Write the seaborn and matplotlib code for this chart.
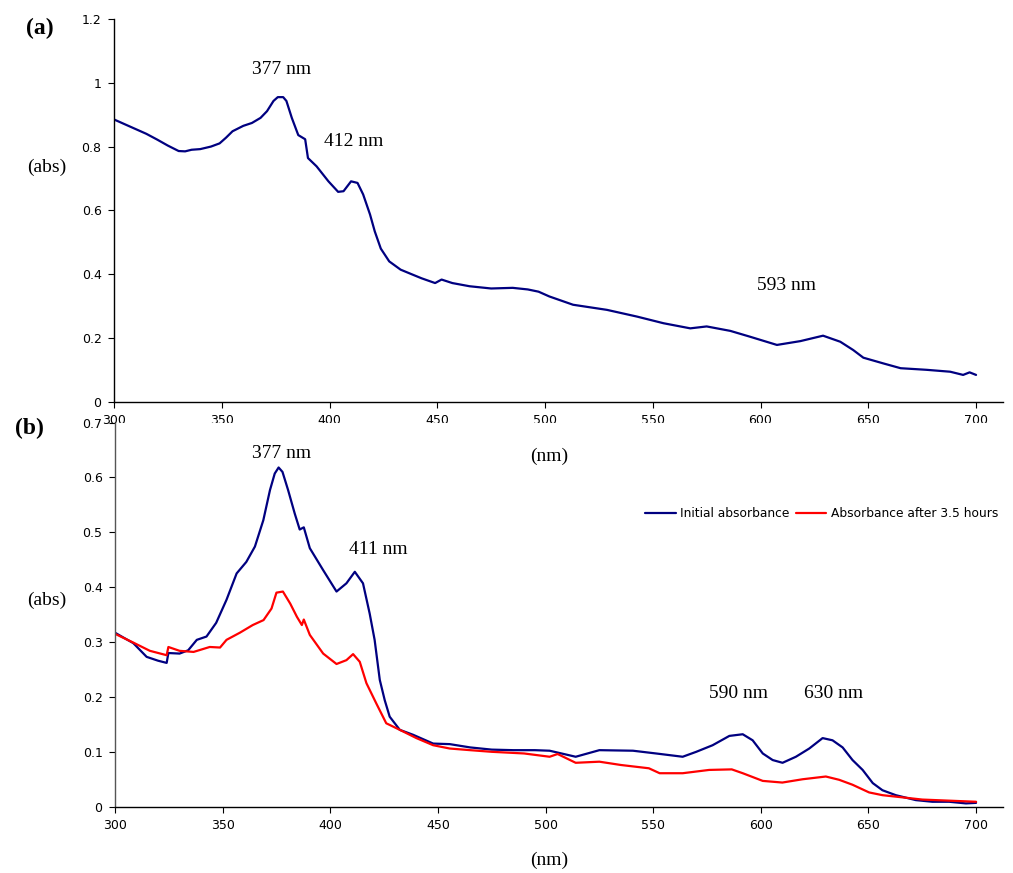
import numpy as np
import pandas as pd
import matplotlib
matplotlib.use("Agg")
import matplotlib.pyplot as plt
import seaborn as sns

# ---------------- data ----------------
top_nm = [300, 305, 310, 315, 320, 325, 330, 333, 336, 340, 345, 349, 352, 355, 360, 364, 368,
          371, 374, 376, 378.5, 380, 382.5, 385.5, 388.7, 390, 394, 399.5, 404, 406.5, 410, 413,
          415.6, 418.8, 421, 423.8, 427.7, 433, 438, 442.7, 449, 452, 457, 465, 475, 485, 492,
          497, 502, 513, 528.7, 542.6, 555, 567.4, 575, 586, 595, 607.6, 618.5, 629, 637, 643,
          647.7, 657, 665, 677, 688, 694, 697, 700]
top_abs = [0.885, 0.870, 0.855, 0.840, 0.822, 0.803, 0.786, 0.785, 0.790, 0.792, 0.800, 0.810,
           0.828, 0.848, 0.865, 0.874, 0.890, 0.911, 0.943, 0.955, 0.955, 0.943, 0.890, 0.836,
           0.823, 0.764, 0.738, 0.691, 0.658, 0.660, 0.691, 0.686, 0.650, 0.587, 0.534, 0.480,
           0.440, 0.414, 0.400, 0.387, 0.372, 0.383, 0.372, 0.362, 0.355, 0.357, 0.352, 0.345,
           0.330, 0.304, 0.288, 0.267, 0.246, 0.230, 0.236, 0.222, 0.204, 0.178, 0.190, 0.207,
           0.188, 0.162, 0.138, 0.120, 0.105, 0.100, 0.094, 0.084, 0.092, 0.084]

init_nm = [300, 304, 308.5, 314.7, 320, 324, 324.8, 330, 334, 338, 342.5, 347, 351.8, 356.5, 361,
           365, 368.9, 372, 374.2, 376, 377.8, 380.4, 383.5, 385.8, 387.7, 390.5, 396.7, 402.9,
           407.5, 411.4, 415.2, 418.3, 420.6, 423, 425.3, 427.6, 432.3, 438.5, 447.8, 455.5, 465,
           475, 485, 495, 501.9, 514, 525, 540.6, 551.3, 563.7, 570, 577.6, 585.4, 591.6, 596.2,
           600.9, 605.5, 610.1, 616.3, 622.5, 628.7, 633.3, 638, 642.6, 647.3, 652, 656.5, 662.7,
           672, 679.7, 687.5, 695.3, 700]
init_abs = [0.317, 0.308, 0.298, 0.273, 0.266, 0.262, 0.280, 0.279, 0.285, 0.304, 0.310, 0.335,
            0.377, 0.425, 0.446, 0.474, 0.522, 0.577, 0.607, 0.618, 0.610, 0.577, 0.534, 0.505,
            0.509, 0.471, 0.431, 0.392, 0.407, 0.428, 0.407, 0.352, 0.304, 0.231, 0.194, 0.164,
            0.140, 0.131, 0.115, 0.114, 0.108, 0.104, 0.103, 0.103, 0.102, 0.091, 0.103, 0.102,
            0.097, 0.091, 0.100, 0.112, 0.129, 0.132, 0.121, 0.097, 0.085, 0.080, 0.091, 0.106,
            0.125, 0.121, 0.108, 0.085, 0.067, 0.043, 0.030, 0.021, 0.012, 0.009, 0.009, 0.006,
            0.007]

after_nm = [300, 308.5, 316.2, 324, 324.8, 330, 336.5, 344, 348.8, 351.8, 358, 364, 369, 372.7,
            375, 378, 381.4, 384.5, 386.8, 387.7, 390.5, 396.7, 402.9, 407.5, 410.6, 413.7, 416.8,
            421.4, 426, 432.3, 440, 447.8, 455.5, 465, 475, 490, 501.9, 505.6, 514, 525, 535, 548,
            553, 563.7, 576, 586.5, 591.6, 600.9, 610, 619.4, 630.2, 636.4, 642.6, 650.3, 656.5,
            665.8, 675, 687.5, 700]
after_abs = [0.315, 0.299, 0.284, 0.276, 0.291, 0.284, 0.282, 0.291, 0.290, 0.304, 0.317, 0.331,
             0.340, 0.361, 0.390, 0.392, 0.370, 0.346, 0.331, 0.341, 0.313, 0.279, 0.260, 0.267,
             0.278, 0.264, 0.225, 0.188, 0.152, 0.140, 0.125, 0.112, 0.106, 0.103, 0.100, 0.097,
             0.091, 0.096, 0.080, 0.082, 0.076, 0.070, 0.061, 0.061, 0.067, 0.068, 0.061, 0.047,
             0.044, 0.050, 0.055, 0.049, 0.040, 0.026, 0.021, 0.017, 0.013, 0.011, 0.009]

series_names = ["Initial absorbance", "Absorbance after 3.5 hours"]
x_ticks = [300, 350, 400, 450, 500, 550, 600, 650, 700]
top_yticks = [0, 0.2, 0.4, 0.6, 0.8, 1.0, 1.2]
top_ylabels = ["0", "0.2", "0.4", "0.6", "0.8", "1", "1.2"]
bot_yticks = [0, 0.1, 0.2, 0.3, 0.4, 0.5, 0.6, 0.7]
bot_ylabels = ["0", "0.1", "0.2", "0.3", "0.4", "0.5", "0.6", "0.7"]

# ---------------- style ----------------
sns.set_style("ticks")
plt.rcParams["font.family"] = ["DejaVu Sans"]
plt.rcParams["text.color"] = "black"
plt.rcParams["xtick.color"] = "black"
plt.rcParams["ytick.color"] = "black"

W, H = 1013, 873
fig = plt.figure(figsize=(W / 100, H / 100), dpi=100)

def fx(px):
    return px / W

def fy(py):
    return 1 - py / H

navy = "#000080"
red = "#FF0000"
serif = ["Liberation Serif", "DejaVu Serif"]

# Top axes (a)
ax1 = fig.add_axes([fx(114), fy(401.7), fx(1003) - fx(114), fy(19) - fy(401.7)])
df_top = pd.DataFrame({"nm": top_nm, "abs": top_abs})
sns.lineplot(data=df_top, x="nm", y="abs", ax=ax1, color=navy, linewidth=1.6, sort=False)
ax1.set_xlim(300, 712.5)
ax1.set_ylim(0, 1.2)
ax1.set_yticks(top_yticks)
ax1.set_yticklabels(top_ylabels)
ax1.set_xticks(x_ticks)
ax1.set_xticklabels([str(t) for t in x_ticks])

# Bottom axes (b)
ax2 = fig.add_axes([fx(115), fy(806.7), fx(1003) - fx(115), fy(422.5) - fy(806.7)])
df_bot = pd.concat([
    pd.DataFrame({"nm": init_nm, "abs": init_abs, "series": series_names[0]}),
    pd.DataFrame({"nm": after_nm, "abs": after_abs, "series": series_names[1]}),
], ignore_index=True)
sns.lineplot(data=df_bot, x="nm", y="abs", hue="series", palette=[navy, red], ax=ax2,
             linewidth=1.6, sort=False)
ax2.set_xlim(300, 712.5)
ax2.set_ylim(0, 0.7)
ax2.set_yticks(bot_yticks)
ax2.set_yticklabels(bot_ylabels)
ax2.set_xticks(x_ticks)
ax2.set_xticklabels([str(t) for t in x_ticks])

handles, labels = ax2.get_legend_handles_labels()
ax2.legend(handles, labels, ncol=2, frameon=False, loc="center",
           bbox_to_anchor=(0.796, 0.762), fontsize=8.8, handlelength=2.5,
           handletextpad=0.4, columnspacing=0.5)

for ax, spc in ((ax1, "black"), (ax2, "#555555")):
    ax.set_xlabel("")
    ax.set_ylabel("")
    sns.despine(ax=ax)
    ax.spines["left"].set_color(spc)
    ax.spines["bottom"].set_color("black")
    ax.spines["left"].set_linewidth(1.0)
    ax.spines["bottom"].set_linewidth(1.0)
    ax.tick_params(axis="both", direction="out", length=4, width=0.8, labelsize=9,
                   pad=5, colors="black")

# Panel labels and annotations
fig.text(fx(40), fy(28), "(a)", family=serif, fontsize=17, fontweight="bold", ha="center", va="center")
fig.text(fx(29), fy(428), "(b)", family=serif, fontsize=17, fontweight="bold", ha="center", va="center")
fig.text(fx(47), fy(167), "(abs)", family=serif, fontsize=14, ha="center", va="center")
fig.text(fx(47), fy(600), "(abs)", family=serif, fontsize=14, ha="center", va="center")
fig.text(fx(549), fy(456), "(nm)", family=serif, fontsize=14, ha="center", va="center")
fig.text(fx(549), fy(860), "(nm)", family=serif, fontsize=14, ha="center", va="center")

ann = [(282, 70, "377 nm"), (354, 141, "412 nm"), (786, 286, "593 nm"),
       (282, 453, "377 nm"), (378, 550, "411 nm"), (738, 693, "590 nm"), (834, 693, "630 nm")]
for x, y, s in ann:
    fig.text(fx(x), fy(y), s, family=serif, fontsize=14, ha="center", va="center")

fig.savefig("out.png", dpi=100)
